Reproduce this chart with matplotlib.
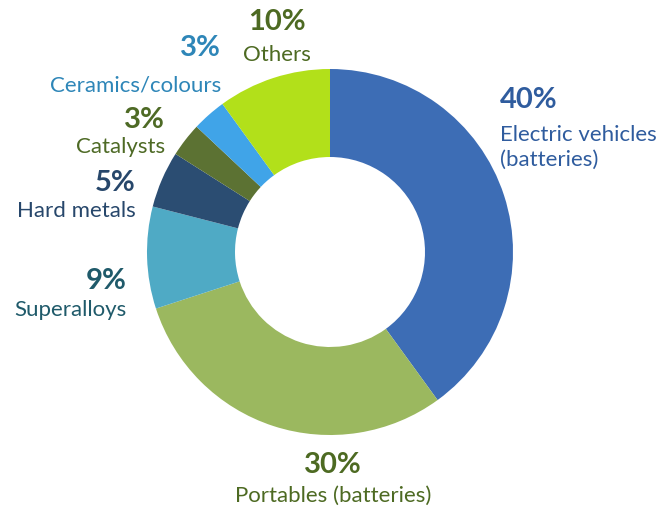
import numpy as np
import matplotlib.pyplot as plt

plt.rcParams['font.family'] = ['Lato', 'DejaVu Sans']

labels = ['Electric vehicles\n(batteries)', 'Portables (batteries)', 'Superalloys',
          'Hard metals', 'Catalysts', 'Ceramics/colours', 'Others']
shares = [40, 30, 9, 5, 3, 3, 10]
colors = ['#3d6db5', '#9bb85f', '#4faac5', '#2b4d72', '#5c7233', '#40a4e8', '#b2e01a']
text_colors = ['#2f5c9e', '#4d6a22', '#1f5a6a', '#27476b', '#4e6a25', '#2e86b8', '#4d6a22']

fig = plt.figure(figsize=(6.62, 5.11), dpi=100)
ax = fig.add_axes([0, 0, 1, 1])

# y axis is inverted below, so start at -90 and go "counterclock" in data
# -> starts at the top and runs clockwise on screen
ax.pie(shares, colors=colors, center=(330, 252), radius=183, startangle=-90,
       counterclock=True, wedgeprops=dict(width=88, edgecolor='none'))
ax.set_xlim(0, 662)
ax.set_ylim(511, 0)
ax.set_aspect('equal')
ax.axis('off')

# label positions (pixel coords): (x, y_pct, y_label, ha)
pos = [
    (500, 100, 147, 'left'),
    (333, 465, 496, 'center'),
    (127, 281, 310, 'right'),
    (136, 183, 211, 'right'),
    (165, 120, 147, 'right'),
    (221, 48, 86, 'right'),
    (277, 22, 55, 'center'),
]
for lab, val, tc, (x, yp, yl, ha) in zip(labels, shares, text_colors, pos):
    ax.text(x, yp, f'{val}%', color=tc, fontsize=21, fontweight='bold',
            ha=ha, va='center')
    ax.text(x, yl, lab, color=tc, fontsize=16, ha=ha, va='center',
            linespacing=1.3)

fig.savefig('out.png', dpi=100)
